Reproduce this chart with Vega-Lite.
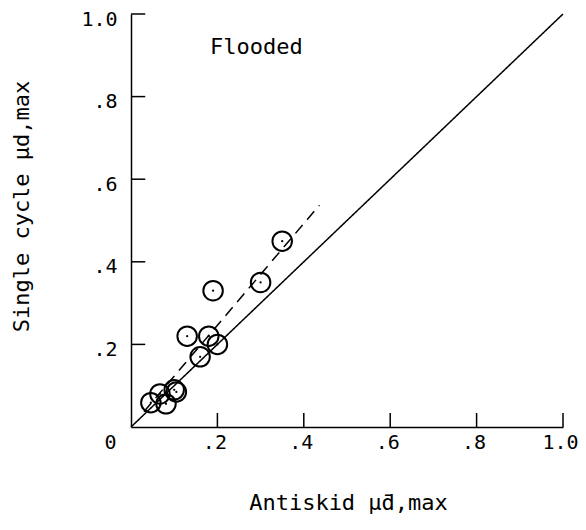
{
  "$schema": "https://vega.github.io/schema/vega-lite/v6.json",
  "width": 432,
  "height": 413,
  "autosize": {"type": "none"},
  "padding": {"left": 131, "top": 14, "right": 23, "bottom": 103},
  "background": "white",
  "config": {
    "view": {"stroke": null},
    "font": "DejaVu Sans Mono",
    "axis": {
      "grid": false,
      "ticks": false,
      "domainColor": "black",
      "domainWidth": 1.5,
      "labelFont": "DejaVu Sans Mono",
      "labelFontSize": 20,
      "labelColor": "black",
      "labelFlush": false,
      "labelOverlap": false,
      "titleFont": "DejaVu Sans Mono",
      "titleFontSize": 22,
      "titleFontWeight": "normal",
      "titleColor": "black"
    }
  },
  "datasets": {
    "points": [
      {"antiskid": 0.30, "single": 0.35},
      {"antiskid": 0.19, "single": 0.33},
      {"antiskid": 0.35, "single": 0.45},
      {"antiskid": 0.13, "single": 0.22},
      {"antiskid": 0.18, "single": 0.22},
      {"antiskid": 0.20, "single": 0.20},
      {"antiskid": 0.16, "single": 0.17},
      {"antiskid": 0.10, "single": 0.09},
      {"antiskid": 0.105, "single": 0.085},
      {"antiskid": 0.067, "single": 0.08},
      {"antiskid": 0.081, "single": 0.056},
      {"antiskid": 0.046, "single": 0.059}
    ],
    "lines": [
      {"line": "equality", "antiskid": 0, "single": 0},
      {"line": "equality", "antiskid": 1, "single": 1},
      {"line": "fit", "antiskid": 0.03, "single": 0.037},
      {"line": "fit", "antiskid": 0.436, "single": 0.537}
    ],
    "ticks": [
      {"v": 0.2}, {"v": 0.4}, {"v": 0.6}, {"v": 0.8}, {"v": 1.0}
    ],
    "labels": [
      {"text": "Flooded", "antiskid": 0.183, "single": 0.92}
    ]
  },
  "layer": [
    {
      "data": {"name": "lines"},
      "mark": {"type": "line", "color": "black", "strokeWidth": 1.5},
      "encoding": {
        "x": {
          "field": "antiskid",
          "type": "quantitative",
          "scale": {"domain": [0, 1], "nice": false},
          "axis": {
            "orient": "bottom",
            "values": [0, 0.2, 0.4, 0.6, 0.8, 1.0],
            "labelExpr": "datum.value == 0 ? '0' : (datum.value == 1 ? '1.0' : replace(format(datum.value, '.1f'), '0.', '.'))",
            "labelPadding": 5,
            "labelOffset": {"condition": {"test": "datum.value == 0", "value": -21}, "value": -3},
            "title": "Antiskid µ̄d,max",
            "titleX": 217,
            "titleY": 82,
            "titleBaseline": "alphabetic",
            "titleAnchor": "middle"
          }
        },
        "y": {
          "field": "single",
          "type": "quantitative",
          "scale": {"domain": [0, 1], "nice": false},
          "axis": {
            "orient": "left",
            "values": [0.2, 0.4, 0.6, 0.8, 1.0],
            "labelExpr": "datum.value == 1 ? '1.0' : replace(format(datum.value, '.1f'), '0.', '.')",
            "labelPadding": 14,
            "labelOffset": 5,
            "title": "Single cycle μd,max",
            "titleX": -103,
            "titleY": 192,
            "titleAngle": -90,
            "titleBaseline": "alphabetic",
            "titleAnchor": "middle"
          }
        },
        "detail": {"field": "line"},
        "strokeDash": {
          "field": "line",
          "type": "nominal",
          "scale": {"domain": ["equality", "fit"], "range": [[1, 0], [11, 7]]},
          "legend": null
        }
      }
    },
    {
      "data": {"name": "ticks"},
      "mark": {"type": "rule", "color": "black", "strokeWidth": 1.5},
      "encoding": {
        "x": {"field": "v", "type": "quantitative"},
        "y": {"datum": 0},
        "y2": {"datum": 0.034}
      }
    },
    {
      "data": {"name": "ticks"},
      "mark": {"type": "rule", "color": "black", "strokeWidth": 1.5},
      "encoding": {
        "y": {"field": "v", "type": "quantitative"},
        "x": {"datum": 0},
        "x2": {"datum": 0.033}
      }
    },
    {
      "data": {"name": "points"},
      "mark": {"type": "point", "shape": "circle", "filled": false, "size": 380, "stroke": "black", "strokeWidth": 2, "opacity": 1},
      "encoding": {
        "x": {"field": "antiskid", "type": "quantitative"},
        "y": {"field": "single", "type": "quantitative"}
      }
    },
    {
      "data": {"name": "points"},
      "mark": {"type": "point", "shape": "circle", "filled": true, "size": 5, "color": "black", "opacity": 1},
      "encoding": {
        "x": {"field": "antiskid", "type": "quantitative"},
        "y": {"field": "single", "type": "quantitative"}
      }
    },
    {
      "data": {"name": "labels"},
      "mark": {"type": "text", "align": "left", "baseline": "middle", "font": "DejaVu Sans Mono", "fontSize": 22, "color": "black"},
      "encoding": {
        "x": {"field": "antiskid", "type": "quantitative"},
        "y": {"field": "single", "type": "quantitative"},
        "text": {"field": "text"}
      }
    }
  ]
}
